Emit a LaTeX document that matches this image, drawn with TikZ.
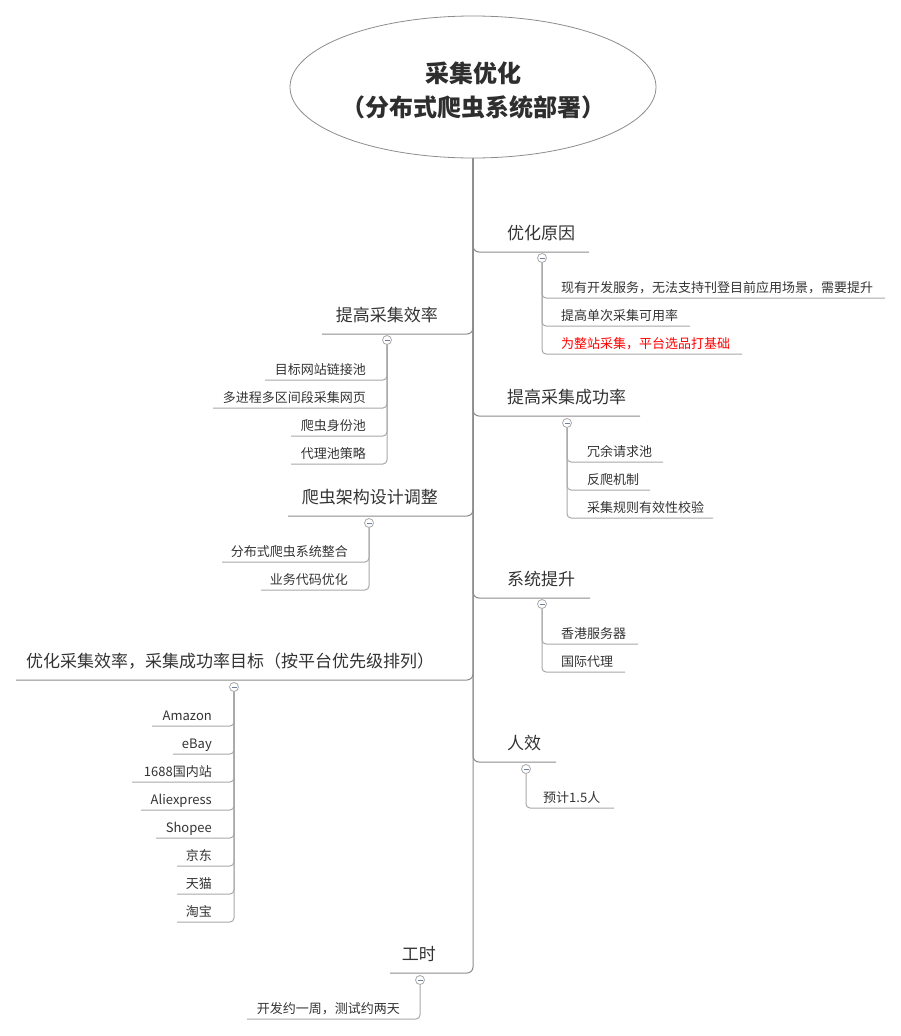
\documentclass[tikz,border=0pt]{standalone}
\usepackage{fontspec}
\setmainfont{Noto Sans CJK SC}
\usetikzlibrary{shapes.geometric}

\definecolor{txt}{HTML}{333333}
\definecolor{trunk}{HTML}{8C8C8C}
\definecolor{twig}{HTML}{A8A8A8}
\definecolor{minus}{HTML}{7080A0}

\tikzset{
  rootshape/.style={ellipse, draw=trunk, line width=0.8pt, minimum width=366pt, minimum height=142pt, inner sep=0pt},
  title/.style={align=center, text=txt!90!black, font=\fontsize{24}{34}\selectfont\bfseries},
  topic/.style={font=\fontsize{17}{20}\selectfont, text=txt, inner sep=0pt},
  item/.style={font=\fontsize{13}{16}\selectfont, text=txt, inner sep=0pt},
  branch/.style={draw=trunk, line width=1pt, rounded corners=6pt},
  twigline/.style={draw=twig, line width=1pt, rounded corners=4pt},
  underline/.style={draw=trunk, line width=1pt},
  fold/.style={circle, draw=twig, fill=white, line width=0.8pt, minimum size=9pt, inner sep=0pt,
    path picture={\draw[minus, line width=0.8pt]
      ([xshift=-2.5pt]path picture bounding box.center) -- ([xshift=2.5pt]path picture bounding box.center);}}
}

\begin{document}
\begin{tikzpicture}[x=1pt, y=-1pt]
  \useasboundingbox (0,0) rectangle (901,1036);

  % central topic
  \node[rootshape] (root) at (473,87) {};
  \node[title] (title) at (473,90) {采集优化\\（分布式爬虫系统部署）};

  % right side: 优化原因
  \node[topic, anchor=base west] (why) at (507,239) {优化原因};
  \coordinate (why-e) at (589,252);
  \draw[branch] (root.south) |- (why-e);
  \node[item, anchor=base west] (why1) at (561,292.5) {现有开发服务，无法支持刊登目前应用场景，需要提升};
  \node[item, anchor=base west] (why2) at (561,320.5) {提高单次采集可用率};
  \node[item, anchor=base west, text=red] (why3) at (561,348.5) {为整站采集，平台选品打基础};
  \coordinate (why1-e) at (885,298);
  \coordinate (why2-e) at (690,326);
  \coordinate (why3-e) at (742,354);
  \node[fold] (why-f) at (542,258) {};
  \draw[twigline] (why-f) |- (why3-e);
  \draw[twigline] (why-f) |- (why2-e);
  \draw[twigline] (why-f) |- (why1-e);

  % right side: 提高采集成功率
  \node[topic, anchor=base west] (succ) at (507,403) {提高采集成功率};
  \coordinate (succ-e) at (640,416);
  \draw[branch] (root.south) |- (succ-e);
  \node[item, anchor=base west] (succ1) at (587,456.5) {冗余请求池};
  \node[item, anchor=base west] (succ2) at (587,484.5) {反爬机制};
  \node[item, anchor=base west] (succ3) at (587,512.5) {采集规则有效性校验};
  \coordinate (succ1-e) at (663,462);
  \coordinate (succ2-e) at (650,490);
  \coordinate (succ3-e) at (713,518);
  \node[fold] (succ-f) at (567,423) {};
  \draw[twigline] (succ-f) |- (succ3-e);
  \draw[twigline] (succ-f) |- (succ2-e);
  \draw[twigline] (succ-f) |- (succ1-e);

  % right side: 系统提升
  \node[topic, anchor=base west] (sys) at (507,585) {系统提升};
  \coordinate (sys-e) at (590,598);
  \draw[branch] (root.south) |- (sys-e);
  \node[item, anchor=base west] (sys1) at (561,638.5) {香港服务器};
  \node[item, anchor=base west] (sys2) at (561,666.5) {国际代理};
  \coordinate (sys1-e) at (638,644);
  \coordinate (sys2-e) at (625,672);
  \node[fold] (sys-f) at (542,604) {};
  \draw[twigline] (sys-f) |- (sys2-e);
  \draw[twigline] (sys-f) |- (sys1-e);

  % right side: 人效
  \node[topic, anchor=base west] (staff) at (507,749) {人效};
  \coordinate (staff-e) at (556,762);
  \draw[branch] (root.south) |- (staff-e);
  \node[item, anchor=base west] (staff1) at (543,802.5) {预计1.5人};
  \coordinate (staff1-e) at (614,808);
  \node[fold] (staff-f) at (526,769) {};
  \draw[twigline] (staff-f) |- (staff1-e);

  % left side: 提高采集效率
  \node[topic, anchor=base east] (eff) at (438,321) {提高采集效率};
  \coordinate (eff-e) at (322,334);
  \draw[branch] (root.south) |- (eff-e);
  \node[item, anchor=base east] (eff1) at (366,374.5) {目标网站链接池};
  \node[item, anchor=base east] (eff2) at (366,402.5) {多进程多区间段采集网页};
  \node[item, anchor=base east] (eff3) at (366,430.5) {爬虫身份池};
  \node[item, anchor=base east] (eff4) at (366,458.5) {代理池策略};
  \coordinate (eff1-e) at (265,380);
  \coordinate (eff2-e) at (213,408);
  \coordinate (eff3-e) at (291,436);
  \coordinate (eff4-e) at (291,464);
  \node[fold] (eff-f) at (387,340) {};
  \draw[twigline] (eff-f) |- (eff4-e);
  \draw[twigline] (eff-f) |- (eff3-e);
  \draw[twigline] (eff-f) |- (eff2-e);
  \draw[twigline] (eff-f) |- (eff1-e);

  % left side: 爬虫架构设计调整
  \node[topic, anchor=base east] (arch) at (438,503) {爬虫架构设计调整};
  \coordinate (arch-e) at (288,516);
  \draw[branch] (root.south) |- (arch-e);
  \node[item, anchor=base east] (arch1) at (348,556.5) {分布式爬虫系统整合};
  \node[item, anchor=base east] (arch2) at (348,584.5) {业务代码优化};
  \coordinate (arch1-e) at (222,562);
  \coordinate (arch2-e) at (261,590);
  \node[fold] (arch-f) at (369,523) {};
  \draw[twigline] (arch-f) |- (arch2-e);
  \draw[twigline] (arch-f) |- (arch1-e);

  % left side: 平台目标
  \node[topic, anchor=base] (goal) at (230,667) {优化采集效率，采集成功率目标（按平台优先级排列）};
  \coordinate (goal-e) at (16,680);
  \draw[branch] (root.south) |- (goal-e);
  \node[item, anchor=base east] (goal1) at (212,720.5) {Amazon};
  \node[item, anchor=base east] (goal2) at (212,748.5) {eBay};
  \node[item, anchor=base east] (goal3) at (212,776.5) {1688国内站};
  \node[item, anchor=base east] (goal4) at (212,804.5) {Aliexpress};
  \node[item, anchor=base east] (goal5) at (212,832.5) {Shopee};
  \node[item, anchor=base east] (goal6) at (212,860.5) {京东};
  \node[item, anchor=base east] (goal7) at (212,888.5) {天猫};
  \node[item, anchor=base east] (goal8) at (212,916.5) {淘宝};
  \coordinate (goal1-e) at (152,726);
  \coordinate (goal2-e) at (173,754);
  \coordinate (goal3-e) at (132,782);
  \coordinate (goal4-e) at (141,810);
  \coordinate (goal5-e) at (156,838);
  \coordinate (goal6-e) at (177,866);
  \coordinate (goal7-e) at (177,894);
  \coordinate (goal8-e) at (177,922);
  \node[fold] (goal-f) at (234,687) {};
  \draw[twigline] (goal-f) |- (goal8-e);
  \draw[twigline] (goal-f) |- (goal7-e);
  \draw[twigline] (goal-f) |- (goal6-e);
  \draw[twigline] (goal-f) |- (goal5-e);
  \draw[twigline] (goal-f) |- (goal4-e);
  \draw[twigline] (goal-f) |- (goal3-e);
  \draw[twigline] (goal-f) |- (goal2-e);
  \draw[twigline] (goal-f) |- (goal1-e);

  % left side: 工时
  \node[topic, anchor=base east] (hours) at (436,960) {工时};
  \coordinate (hours-e) at (390,973);
  \draw[branch] (root.south) |- (hours-e);
  \node[item, anchor=base east] (hours1) at (400,1013.5) {开发约一周，测试约两天};
  \coordinate (hours1-e) at (247,1019);
  \node[fold] (hours-f) at (420,980) {};
  \draw[twigline] (hours-f) |- (hours1-e);
\end{tikzpicture}
\end{document}
